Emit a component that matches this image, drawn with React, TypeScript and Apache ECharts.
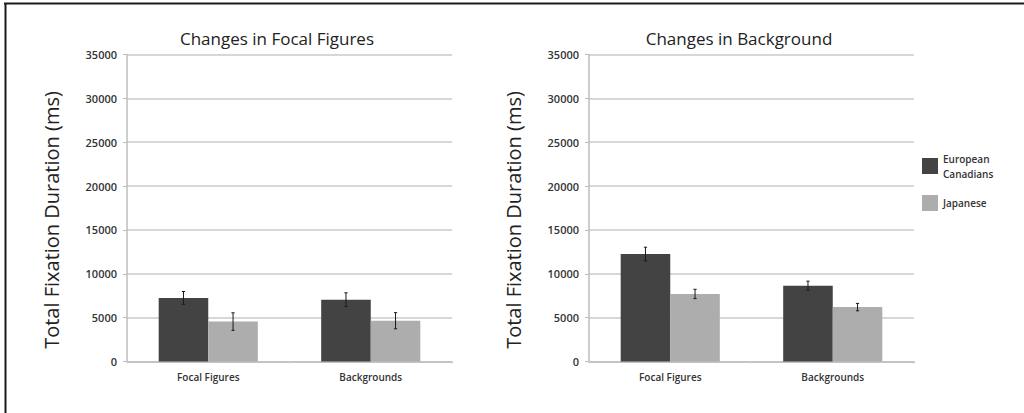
import React, { useEffect, useRef } from "react";
import * as echarts from "echarts";

// Categories along each x axis
const categories = ["Focal Figures", "Backgrounds"];
const groups = ["European\nCanadians", "Japanese"];
const yTicks = { min: 0, max: 35000, interval: 5000 };

// Panel 1: Changes in Focal Figures (mean total fixation duration, ms)
const focalEuro = [7250, 7050];
const focalEuroErr = [730, 780];
const focalJapan = [4550, 4650];
const focalJapanErr = [1000, 920];

// Panel 2: Changes in Background
const bgEuro = [12250, 8650];
const bgEuroErr = [780, 510];
const bgJapan = [7700, 6200];
const bgJapanErr = [530, 420];

const DARK = "#434343";
const LIGHT = "#adadad";
const FONT = "'Open Sans', 'Noto Sans', sans-serif";
const BAR_CAT_GAP = 0.39;

function errData(vals: number[], errs: number[]) {
  return vals.map((v, i) => [i, v - errs[i], v + errs[i]]);
}

function errorSeries(
  vals: number[],
  errs: number[],
  side: number,
  axisIndex: number
) {
  return {
    type: "custom",
    xAxisIndex: axisIndex,
    yAxisIndex: axisIndex,
    z: 10,
    silent: true,
    encode: { x: 0, y: [1, 2] },
    data: errData(vals, errs),
    renderItem: (params: any, api: any) => {
      const idx = api.value(0);
      const lo = api.coord([idx, api.value(1)]);
      const hi = api.coord([idx, api.value(2)]);
      const band = api.size([1, 0])[0];
      const bw = (band * (1 - BAR_CAT_GAP)) / 2;
      const x = lo[0] + side * (bw / 2);
      const cap = 1.6;
      const style = { stroke: "#1a1a1a", lineWidth: 1 };
      return {
        type: "group",
        children: [
          { type: "line", shape: { x1: x, y1: hi[1], x2: x, y2: lo[1] }, style },
          { type: "line", shape: { x1: x - cap, y1: hi[1], x2: x + cap, y2: hi[1] }, style },
          { type: "line", shape: { x1: x - cap, y1: lo[1], x2: x + cap, y2: lo[1] }, style },
        ],
      };
    },
  };
}

function xAxisCfg(gridIndex: number) {
  return {
    type: "category",
    gridIndex,
    data: categories,
    axisLine: { show: true, lineStyle: { color: "#bdbdbd", width: 1.5 } },
    axisTick: { show: true, length: 2, lineStyle: { color: "#d0d0d0" } },
    axisLabel: {
      color: "#333",
      fontFamily: FONT,
      fontSize: 10,
      fontWeight: 600,
      margin: 10,
    },
  };
}

function yAxisCfg(gridIndex: number) {
  return {
    type: "value",
    gridIndex,
    min: yTicks.min,
    max: yTicks.max,
    interval: yTicks.interval,
    axisLine: { show: true, lineStyle: { color: "#bdbdbd", width: 1.5 } },
    axisTick: { show: true, length: 4, lineStyle: { color: "#bdbdbd" } },
    splitLine: { show: true, lineStyle: { color: "#cacaca", width: 1.5 } },
    axisLabel: {
      color: "#333",
      fontFamily: FONT,
      fontSize: 11,
      fontWeight: 600,
      margin: 10,
      formatter: (v: number) => String(v),
    },
  };
}

function barSeries(name: string, vals: number[], color: string, axisIndex: number) {
  return {
    name,
    type: "bar",
    xAxisIndex: axisIndex,
    yAxisIndex: axisIndex,
    data: vals,
    barGap: "0%",
    barCategoryGap: `${BAR_CAT_GAP * 100}%`,
    itemStyle: { color },
  };
}

export default function App() {
  const ref = useRef<HTMLDivElement>(null);

  useEffect(() => {
    if (!ref.current) return;
    const chart = echarts.init(ref.current, null, { renderer: "svg" });
    const yName = "Total Fixation Duration (ms)";
    const titleStyle = { fontFamily: FONT, fontSize: 17, fontWeight: "normal", color: "#222" };
    const yNameStyle = {
      text: yName,
      fontFamily: FONT,
      fontSize: 20,
      fill: "#222",
      textAlign: "center",
      textVerticalAlign: "middle",
    };
    chart.setOption({
      animation: false,
      backgroundColor: "#ffffff",
      grid: [
        { left: 127, top: 54.5, width: 325, height: 307 },
        { left: 589, top: 54.5, width: 325, height: 307 },
      ],
      title: [
        { text: "Changes in Focal Figures", left: 272, top: 25, textAlign: "center", textStyle: titleStyle },
        { text: "Changes in Background", left: 734, top: 25, textAlign: "center", textStyle: titleStyle },
      ],
      legend: {
        orient: "vertical",
        left: 917,
        top: 146,
        itemWidth: 16,
        itemHeight: 16,
        itemGap: 14,
        icon: "rect",
        data: groups,
        textStyle: {
          fontFamily: FONT,
          fontSize: 10,
          fontWeight: 600,
          color: "#333",
          lineHeight: 15,
        },
        selectedMode: false,
      },
      xAxis: [xAxisCfg(0), xAxisCfg(1)],
      yAxis: [yAxisCfg(0), yAxisCfg(1)],
      series: [
        barSeries(groups[0], focalEuro, DARK, 0),
        barSeries(groups[1], focalJapan, LIGHT, 0),
        barSeries(groups[0], bgEuro, DARK, 1),
        barSeries(groups[1], bgJapan, LIGHT, 1),
        errorSeries(focalEuro, focalEuroErr, -1, 0),
        errorSeries(focalJapan, focalJapanErr, 1, 0),
        errorSeries(bgEuro, bgEuroErr, -1, 1),
        errorSeries(bgJapan, bgJapanErr, 1, 1),
      ],
      graphic: [
        { type: "text", x: 51, y: 220, rotation: Math.PI / 2, style: yNameStyle },
        { type: "text", x: 513, y: 220, rotation: Math.PI / 2, style: yNameStyle },
        {
          type: "line",
          shape: { x1: 4, y1: 3.5, x2: 1024, y2: 3.5 },
          style: { stroke: "#1a1a1a", lineWidth: 2 },
        },
        {
          type: "line",
          shape: { x1: 5.5, y1: 3, x2: 5.5, y2: 413 },
          style: { stroke: "#1a1a1a", lineWidth: 2 },
        },
      ],
    });
    return () => chart.dispose();
  }, []);

  return (
    <div
      ref={ref}
      style={{ position: "fixed", left: 0, top: 0, width: 1024, height: 413 }}
    />
  );
}
